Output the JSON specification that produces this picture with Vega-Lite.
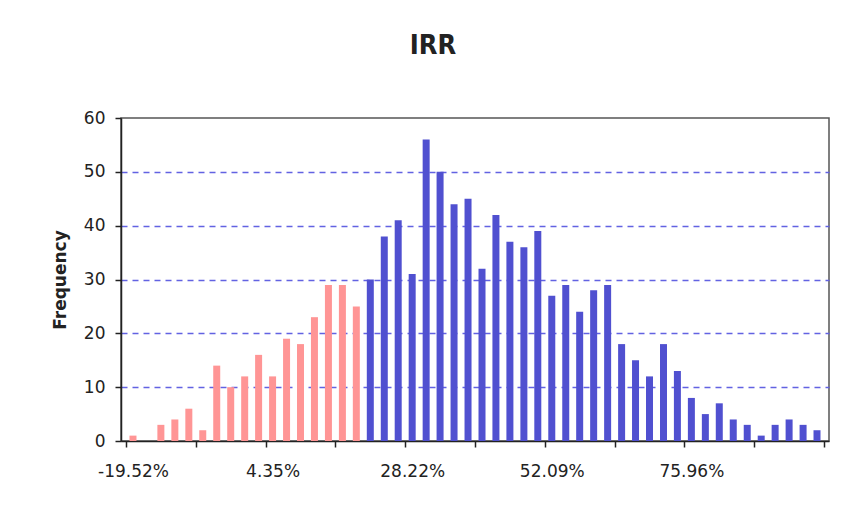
{
  "$schema": "https://vega.github.io/schema/vega-lite/v6.json",
  "width": 708,
  "height": 323,
  "autosize": "none",
  "padding": {"left": 121, "top": 118, "right": 14, "bottom": 68},
  "background": "white",
  "title": {"text": "IRR", "font": "Liberation Sans Narrow, DejaVu Sans Condensed, sans-serif", "fontSize": 27, "fontWeight": "bold", "color": "#222222", "anchor": "middle", "dx": -42, "offset": 49},
  "config": {
    "view": {"stroke": "#555555", "strokeWidth": 1.5},
    "font": "DejaVu Sans"
  },
  "data": {"values": [
    {"irr": -19.52, "count": 1, "zone": "below"},
    {"irr": -17.13, "count": 0, "zone": "below"},
    {"irr": -14.75, "count": 3, "zone": "below"},
    {"irr": -12.36, "count": 4, "zone": "below"},
    {"irr": -9.97, "count": 6, "zone": "below"},
    {"irr": -7.59, "count": 2, "zone": "below"},
    {"irr": -5.20, "count": 14, "zone": "below"},
    {"irr": -2.81, "count": 10, "zone": "below"},
    {"irr": -0.42, "count": 12, "zone": "below"},
    {"irr": 1.96, "count": 16, "zone": "below"},
    {"irr": 4.35, "count": 12, "zone": "below"},
    {"irr": 6.74, "count": 19, "zone": "below"},
    {"irr": 9.12, "count": 18, "zone": "below"},
    {"irr": 11.51, "count": 23, "zone": "below"},
    {"irr": 13.90, "count": 29, "zone": "below"},
    {"irr": 16.29, "count": 29, "zone": "below"},
    {"irr": 18.67, "count": 25, "zone": "below"},
    {"irr": 21.06, "count": 30, "zone": "above"},
    {"irr": 23.45, "count": 38, "zone": "above"},
    {"irr": 25.83, "count": 41, "zone": "above"},
    {"irr": 28.22, "count": 31, "zone": "above"},
    {"irr": 30.61, "count": 56, "zone": "above"},
    {"irr": 32.99, "count": 50, "zone": "above"},
    {"irr": 35.38, "count": 44, "zone": "above"},
    {"irr": 37.77, "count": 45, "zone": "above"},
    {"irr": 40.16, "count": 32, "zone": "above"},
    {"irr": 42.54, "count": 42, "zone": "above"},
    {"irr": 44.93, "count": 37, "zone": "above"},
    {"irr": 47.32, "count": 36, "zone": "above"},
    {"irr": 49.70, "count": 39, "zone": "above"},
    {"irr": 52.09, "count": 27, "zone": "above"},
    {"irr": 54.48, "count": 29, "zone": "above"},
    {"irr": 56.86, "count": 24, "zone": "above"},
    {"irr": 59.25, "count": 28, "zone": "above"},
    {"irr": 61.64, "count": 29, "zone": "above"},
    {"irr": 64.03, "count": 18, "zone": "above"},
    {"irr": 66.41, "count": 15, "zone": "above"},
    {"irr": 68.80, "count": 12, "zone": "above"},
    {"irr": 71.19, "count": 18, "zone": "above"},
    {"irr": 73.57, "count": 13, "zone": "above"},
    {"irr": 75.96, "count": 8, "zone": "above"},
    {"irr": 78.35, "count": 5, "zone": "above"},
    {"irr": 80.73, "count": 7, "zone": "above"},
    {"irr": 83.12, "count": 4, "zone": "above"},
    {"irr": 85.51, "count": 3, "zone": "above"},
    {"irr": 87.90, "count": 1, "zone": "above"},
    {"irr": 90.28, "count": 3, "zone": "above"},
    {"irr": 92.67, "count": 4, "zone": "above"},
    {"irr": 95.06, "count": 3, "zone": "above"},
    {"irr": 97.44, "count": 2, "zone": "above"}
  ]},
  "resolve": {"axis": {"x": "independent"}},
  "layer": [
    {
      "mark": {"type": "bar", "width": 7},
      "encoding": {
        "x": {
          "field": "irr", "type": "quantitative",
          "scale": {"domain": [-20.7135, 98.6365], "nice": false, "zero": false},
          "axis": {
            "orient": "bottom",
            "values": [-19.52, 4.35, 28.22, 52.09, 75.96],
            "labelExpr": "(datum.value < 0 ? '-' : '') + format(abs(datum.value), '.2f') + '%'",
            "ticks": false, "grid": false,
            "domain": true, "domainColor": "#222222", "domainWidth": 1.5,
            "labelFont": "DejaVu Sans", "labelFontSize": 17, "labelColor": "#222222",
            "labelPadding": 22, "labelFlush": false, "labelOverlap": false,
            "title": null
          }
        },
        "y": {
          "field": "count", "type": "quantitative",
          "scale": {"domain": [0, 60], "nice": false},
          "axis": {
            "values": [0, 10, 20, 30, 40, 50, 60],
            "title": "Frequency",
            "titleFont": "DejaVu Sans", "titleFontSize": 17, "titleFontWeight": "bold", "titleColor": "#222222",
            "titlePadding": 14,
            "labelFont": "DejaVu Sans", "labelFontSize": 17, "labelColor": "#222222",
            "labelPadding": 10,
            "tickSize": 6, "tickColor": "#222222", "tickWidth": 1.5,
            "domainColor": "#222222", "domainWidth": 1.5,
            "grid": true,
            "gridColor": {"condition": {"test": "datum.value <= 0 || datum.value >= 60", "value": "transparent"}, "value": "#6262e2"},
            "gridDash": [6, 5], "gridWidth": 1.5
          }
        },
        "color": {
          "field": "zone", "type": "nominal",
          "scale": {"domain": ["below", "above"], "range": ["#ff9595", "#5050d0"]},
          "legend": null
        }
      }
    },
    {
      "mark": {"type": "bar", "width": 7, "opacity": 0},
      "encoding": {
        "x": {
          "field": "irr", "type": "quantitative",
          "axis": {
            "orient": "bottom",
            "values": [-20.7135, -8.7785, 3.1565, 15.0915, 27.0265, 38.9615, 50.8965, 62.8315, 74.7665, 86.7015, 98.6365],
            "labels": false, "ticks": true, "tickSize": 6, "tickColor": "#222222", "tickWidth": 1.5,
            "domain": false, "grid": false, "title": null
          }
        },
        "y": {"field": "count", "type": "quantitative"}
      }
    }
  ]
}
